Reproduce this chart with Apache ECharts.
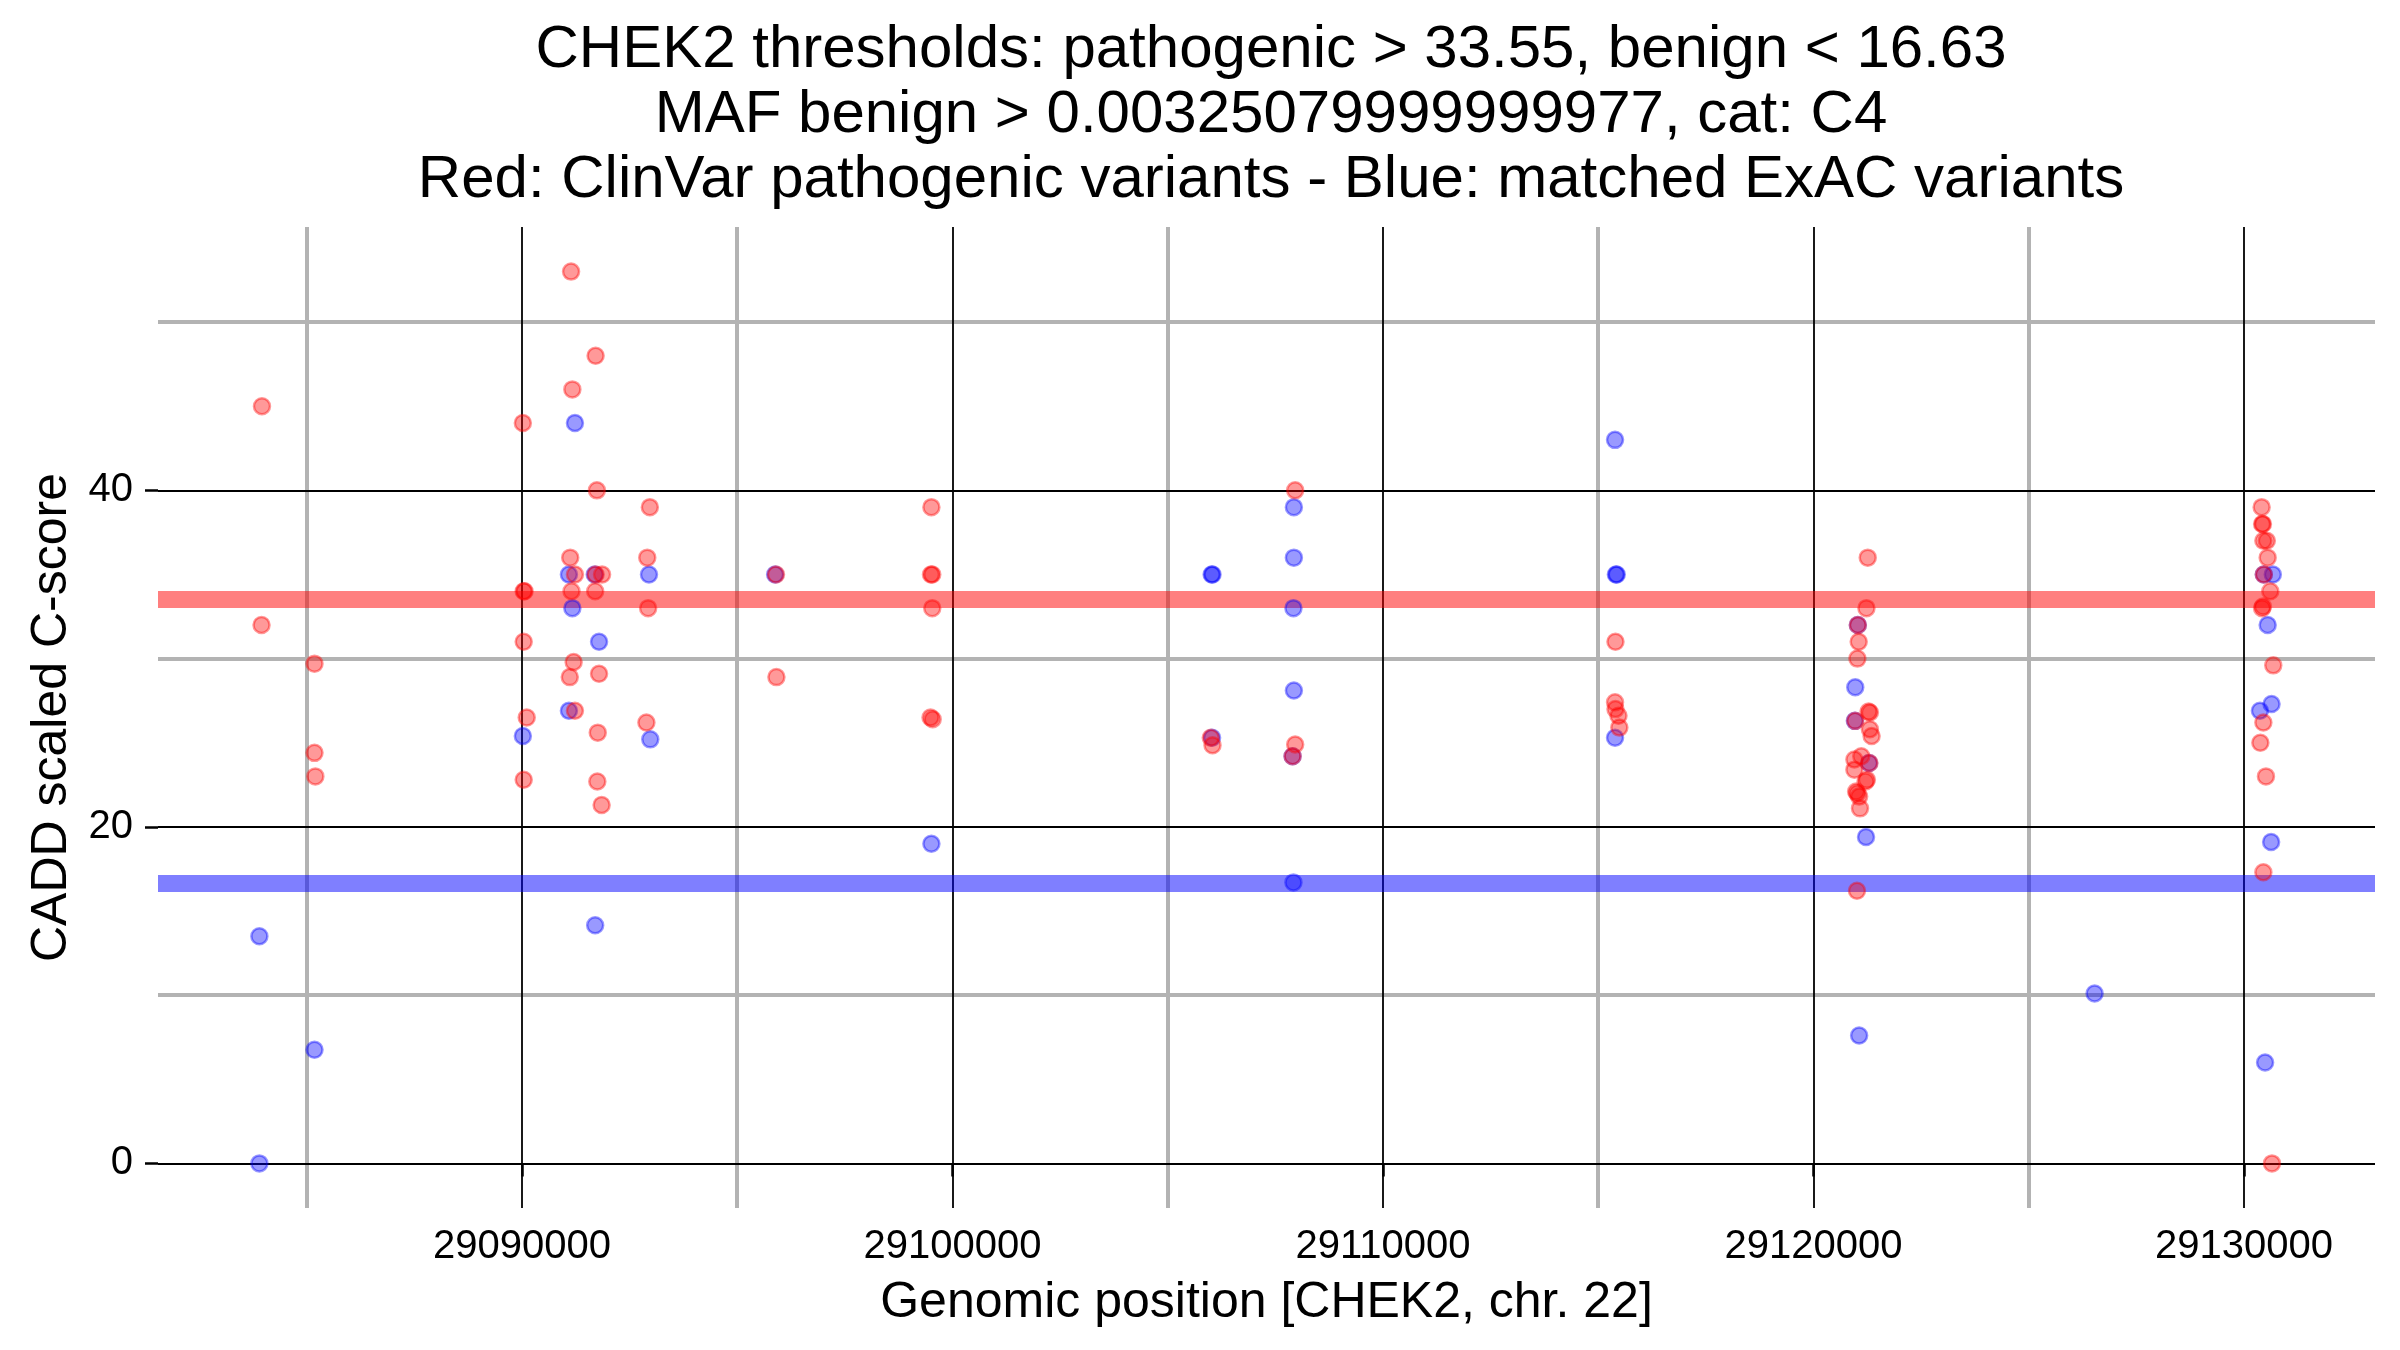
<!DOCTYPE html>
<html>
<head>
<meta charset="utf-8">
<script src="https://cdn.jsdelivr.net/npm/echarts@6/dist/echarts.min.js"></script>
<style>
html,body{margin:0;padding:0;background:#ffffff;}
#chart{width:2400px;height:1350px;}
</style>
</head>
<body>
<div id="chart"></div>
<script>
// ---------- data ----------
const titleLines = [
  'CHEK2 thresholds: pathogenic > 33.55, benign < 16.63',
  'MAF benign > 0.00325079999999977, cat: C4',
  'Red: ClinVar pathogenic variants - Blue: matched ExAC variants'
];
const xAxisTitle = 'Genomic position [CHEK2, chr. 22]';
const yAxisTitle = 'CADD scaled C-score';

const xMajorTicks = [29090000, 29100000, 29110000, 29120000, 29130000];
const xMinorTicks = [29085000, 29095000, 29105000, 29115000, 29125000];
const yMajorTicks = [0, 20, 40];
const yMinorTicks = [10, 30, 50];

const pathogenicThreshold = 33.55;
const benignThreshold = 16.63;

// ClinVar pathogenic variants (red)
const redPos = [
  29083960, 29083950, 29085180, 29085180, 29085200,
  29090020, 29090040, 29090060, 29090040, 29090110, 29090040,
  29091140, 29091710, 29091170, 29091740, 29091120, 29091230, 29091710, 29091860,
  29091150, 29091700, 29091200, 29091110, 29091790, 29091230, 29091760, 29091750, 29091850,
  29092970, 29092910, 29092930, 29092890,
  29095900, 29095910,
  29099510, 29099500, 29099530, 29099530, 29099490, 29099540,
  29106000, 29106040,
  29107960, 29107960, 29107900,
  29115400, 29115390, 29115400, 29115470, 29115490,
  29121260, 29121230, 29121030, 29121050, 29121020, 29121280, 29121310, 29120970,
  29121310, 29121350, 29121110, 29120950, 29121300, 29120950, 29121210, 29121240,
  29120990, 29121020, 29121060, 29121080, 29121010,
  29130410, 29130420, 29130440, 29130450, 29130530, 29130550, 29130460, 29130610,
  29130420, 29130440, 29130680, 29130450, 29130380, 29130510, 29130450, 29130650
];
const redScore = [
  45.0, 32.0, 29.7, 24.4, 23.0,
  44.0, 34.0, 34.0, 31.0, 26.5, 22.8,
  53.0, 48.0, 46.0, 40.0, 36.0, 35.0, 35.0, 35.0,
  34.0, 34.0, 29.8, 28.9, 29.1, 26.9, 25.6, 22.7, 21.3,
  39.0, 36.0, 33.0, 26.2,
  35.0, 28.9,
  39.0, 35.0, 35.0, 33.0, 26.5, 26.4,
  25.3, 24.85,
  40.0, 24.9, 24.2,
  31.0, 27.4, 27.0, 26.6, 25.9,
  36.0, 33.0, 32.0, 31.0, 30.0, 26.85, 26.8, 26.3,
  25.8, 25.4, 24.2, 24.0, 23.8, 23.4, 22.7, 22.8,
  22.1, 22.0, 21.8, 21.1, 16.2,
  39.0, 38.0, 38.0, 37.0, 37.0, 36.0, 35.0, 34.0,
  33.0, 33.1, 29.6, 26.2, 25.0, 23.0, 17.3, 0.0
];

// matched ExAC variants (blue)
const bluePos = [
  29083900, 29083900, 29085180,
  29090020, 29091230, 29091090, 29091690, 29091170, 29091790, 29091090, 29091700,
  29092950, 29092980,
  29095880,
  29099510,
  29106020, 29106040, 29106030,
  29107930, 29107930, 29107920, 29107930, 29107900, 29107920,
  29115390, 29115410, 29115430, 29115390,
  29121030, 29120970, 29120960, 29121290, 29121220, 29121060,
  29126530,
  29130460, 29130670, 29130550, 29130640, 29130370, 29130630, 29130490
];
const blueScore = [
  13.5, 0.0, 6.75,
  25.4, 44.0, 35.0, 35.0, 33.0, 31.0, 26.9, 14.15,
  35.0, 25.2,
  35.0,
  19.0,
  35.0, 35.0, 25.3,
  39.0, 36.0, 33.0, 28.1, 24.2, 16.7,
  43.0, 35.0, 35.0, 25.3,
  32.0, 28.3, 26.3, 23.8, 19.4, 7.6,
  10.1,
  35.0, 35.0, 32.0, 27.3, 26.9, 19.1, 6.0
];

// ---------- chart ----------
const FONT = '"Liberation Sans", Arial, Helvetica, sans-serif';
const pair = (xs, ys) => xs.map((x, i) => [x, ys[i]]);

function lineSeries(name, xs, ys, color, width, z) {
  return {
    type: 'line', name: name, data: [], silent: true, animation: false,
    markLine: {
      silent: true, animation: false, z: z,
      symbol: ['none', 'none'],
      label: { show: false },
      emphasis: { disabled: true },
      lineStyle: { color: color, width: width, type: 'solid', opacity: 1 },
      data: xs.map(v => ({ xAxis: v })).concat(ys.map(v => ({ yAxis: v })))
    }
  };
}

const chart = echarts.init(document.getElementById('chart'), null, { renderer: 'canvas' });

chart.setOption({
  backgroundColor: '#ffffff',
  animation: false,
  textStyle: { fontFamily: FONT },
  title: {
    text: titleLines.join('\n'),
    left: 1271,
    textAlign: 'center',
    top: 18,
    padding: 0,
    textStyle: { fontFamily: FONT, fontSize: 60, lineHeight: 65, fontWeight: 'normal', color: '#000000' }
  },
  grid: { left: 158, right: 25, top: 227, bottom: 142, containLabel: false },
  xAxis: {
    type: 'value',
    min: 29081545, max: 29133043,
    axisLine: { show: false },
    splitLine: { show: false },
    axisTick: { show: true, customValues: xMajorTicks, length: 13, lineStyle: { color: '#000000', width: 2.5 } },
    axisLabel: { show: true, customValues: xMajorTicks, fontFamily: FONT, fontSize: 40, color: '#000000', margin: 19,
      formatter: v => String(v) },
    name: xAxisTitle, nameLocation: 'middle', nameGap: 70,
    nameTextStyle: { fontFamily: FONT, fontSize: 50, color: '#000000' }
  },
  yAxis: {
    type: 'value',
    min: -2.65, max: 55.65,
    axisLine: { show: false },
    splitLine: { show: false },
    axisTick: { show: true, customValues: yMajorTicks, length: 13, lineStyle: { color: '#000000', width: 2.5 } },
    axisLabel: { show: true, customValues: yMajorTicks, fontFamily: FONT, fontSize: 40, color: '#000000', margin: 25,
      formatter: v => String(v) },
    name: yAxisTitle, nameLocation: 'middle', nameGap: 78,
    nameTextStyle: { fontFamily: FONT, fontSize: 50, color: '#000000' }
  },
  series: [
    lineSeries('minor grid', xMinorTicks, yMinorTicks, '#b3b3b3', 4, 1),
    lineSeries('major grid', xMajorTicks, yMajorTicks, '#000000', 1.8, 2),
    {
      type: 'line', name: 'thresholds', data: [], silent: true, animation: false,
      markLine: {
        silent: true, animation: false, z: 3,
        symbol: ['none', 'none'], label: { show: false }, emphasis: { disabled: true },
        data: [
          { yAxis: pathogenicThreshold, lineStyle: { color: 'rgba(255,0,0,0.5)', width: 17, type: 'solid' } },
          { yAxis: benignThreshold, lineStyle: { color: 'rgba(0,0,255,0.5)', width: 17, type: 'solid' } }
        ]
      }
    },
    {
      type: 'scatter', name: 'ExAC', z: 4, silent: true, animation: false,
      symbol: 'circle', symbolSize: 16,
      itemStyle: { color: 'rgba(0,0,255,0.5)', borderColor: 'rgba(0,0,255,0.5)', borderWidth: 2.5 },
      emphasis: { disabled: true },
      data: pair(bluePos, blueScore)
    },
    {
      type: 'scatter', name: 'ClinVar', z: 5, silent: true, animation: false,
      symbol: 'circle', symbolSize: 16,
      itemStyle: { color: 'rgba(255,0,0,0.5)', borderColor: 'rgba(255,0,0,0.5)', borderWidth: 2.5 },
      emphasis: { disabled: true },
      data: pair(redPos, redScore)
    }
  ]
});
</script>
</body>
</html>
